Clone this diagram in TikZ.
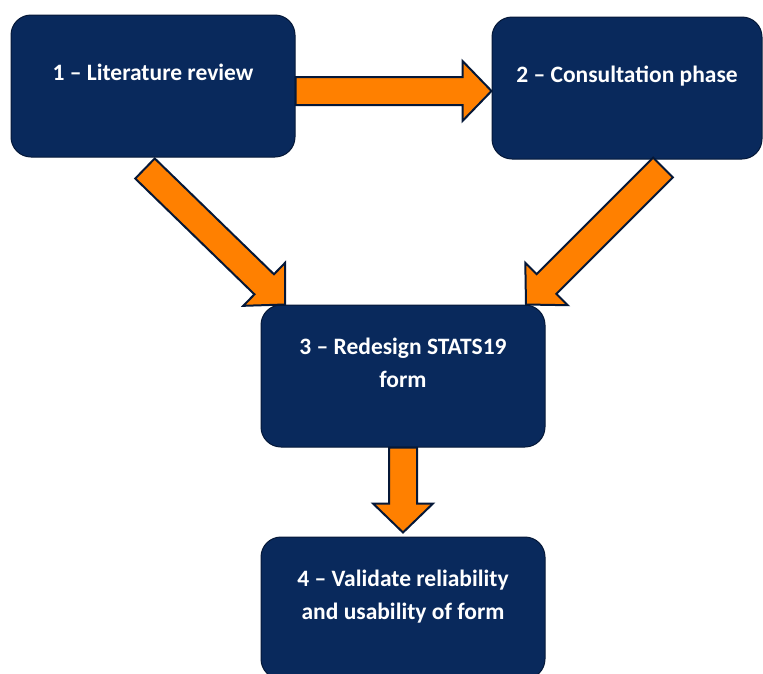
\documentclass[tikz,border=0pt]{standalone}
\usepackage{fontspec}
\setmainfont{Carlito}
\usetikzlibrary{calc}
\definecolor{stepblue}{RGB}{9,41,92}
\definecolor{stepline}{RGB}{5,24,56}
\definecolor{flowfill}{RGB}{255,128,0}
\newlength{\boxwidth}
\setlength{\boxwidth}{284pt}
\newcommand{\blockarrow}[2]{%
  \coordinate (hb) at ($(#2)!29pt!(#1)$);
  \draw[flowarrow] ($(#1)!14pt!90:(#2)$) -- ($(hb)!14pt!90:(#2)$)
    -- ($(hb)!30pt!90:(#2)$) -- (#2) -- ($(hb)!30pt!-90:(#2)$)
    -- ($(hb)!14pt!-90:(#2)$) -- ($(#1)!14pt!-90:(#2)$) -- cycle;
}

\begin{document}
\begin{tikzpicture}[x=1pt,y=-1pt,
    stepbox/.style={draw=stepline, line width=1pt, fill=stepblue,
        rounded corners=20pt, minimum width=\boxwidth, minimum height=142pt,
        text=white, align=center,
        font=\fontsize{23.5}{33}\selectfont\bfseries},
    flowarrow/.style={draw=stepline, line width=2pt, fill=flowfill}]
    \useasboundingbox (0,0) rectangle (763,673);

    \node[stepbox] (lit) at (153,86) {1 -- Literature review\\[-6pt]\mbox{}};
    \node[stepbox, minimum width=270pt] (con) at (627,88) {2 -- Consultation phase\\[-6pt]\mbox{}};
    \node[stepbox] (red) at (403,376) {3 -- Redesign STATS19\\form\\[-6pt]\mbox{}};
    \node[stepbox] (val) at (403,608) {4 -- Validate reliability\\and usability of form\\[-6pt]\mbox{}};

    \coordinate (litout) at ([yshift=-5pt]lit.east);
    \coordinate (conin) at ([yshift=-3pt]con.west);
    \coordinate (litdown) at ([xshift=-8pt, yshift=-11pt]lit.south);
    \coordinate (condown) at ([xshift=36pt, yshift=-8pt]con.south);
    \coordinate (redinl) at ([xshift=-118pt]red.north);
    \coordinate (redinr) at ([xshift=123pt]red.north);
    \coordinate (valin) at ([yshift=4pt]val.north);

    \blockarrow{litout}{conin}
    \blockarrow{litdown}{redinl}
    \blockarrow{condown}{redinr}
    \blockarrow{red.south}{valin}
\end{tikzpicture}
\end{document}
